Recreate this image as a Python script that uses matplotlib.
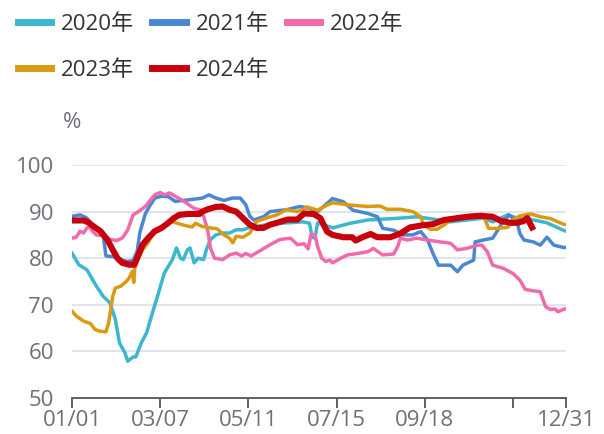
import numpy as np
import matplotlib
matplotlib.use("Agg")
import matplotlib.pyplot as plt

plt.rcParams['font.family'] = ['Open Sans', 'Noto Sans CJK SC', 'DejaVu Sans']

# day of year, value (%)
d2020 = [0, 5, 11, 18, 23, 28, 32, 35, 39, 41, 45, 47, 51, 55, 57, 60, 63, 68, 74, 77, 80, 82, 85, 87, 90, 93, 97, 99,
         102, 106, 111, 116, 121, 126, 130, 140, 150, 160, 170, 175, 177, 179, 181, 192, 205, 218, 242, 254, 266, 279,
         291, 303, 310, 321, 328, 340, 350, 362, 364]
v2020 = [81.1, 78.6, 77.5, 74, 71.8, 70.4, 66.8, 61.8, 59.7, 57.9, 58.8, 58.8, 61.8, 64, 66, 69, 71.8, 76.8, 79.7, 82.2,
         80, 79.7, 81.8, 82.2, 79, 80, 79.7, 81.8, 84, 85, 85.4, 85.4, 86.1, 86.1, 86.5, 87, 87.5, 87.6, 87.8, 87.5, 84.5,
         84.3, 87.6, 86.5, 87.5, 88.2, 88.6, 88.9, 88.4, 87.8, 88.2, 88.6, 87.8, 89.3, 88.6, 88.2, 87.6, 86, 85.8]

d2021 = [0, 6, 11, 16, 21, 23, 25, 31, 36, 41, 45, 48, 50, 54, 57, 61, 66, 71, 76, 82, 91, 96, 101, 106, 112, 118, 124,
         128, 131, 134, 141, 146, 158, 168, 175, 181, 192, 200, 207, 218, 225, 229, 237, 244, 251, 257, 262, 266, 270,
         279, 284, 288, 296, 297, 303, 310, 316, 322, 328, 330, 333, 340, 345, 350, 355, 362, 364]
v2021 = [89, 89.3, 88.6, 86.8, 85.8, 85, 80.5, 80.3, 79.7, 79.3, 79.5, 81.5, 85.5, 89.5, 91.1, 92.9, 93.3, 93.2, 92.2,
         92.4, 92.7, 92.9, 93.6, 92.9, 92.4, 92.9, 92.9, 91.5, 89, 88.2, 88.9, 90, 90.4, 91.1, 90.7, 90, 92.8, 92.1, 90.3,
         89.6, 88.9, 86.4, 86, 85, 85, 85.7, 83.9, 81, 78.5, 78.5, 77.1, 78.5, 79.6, 83.5, 83.9, 84.3, 87.1, 89.3, 87.8,
         85.3, 83.9, 83.5, 82.8, 84.5, 82.8, 82.3, 82.3]

d2022 = [0, 3, 6, 8.5, 11, 13, 15, 18, 23, 28, 33, 37, 41, 45, 49, 54, 57, 61, 65, 68, 72, 76, 81, 86, 90, 94, 97, 100,
         102, 105, 111, 116, 121, 125, 128, 132, 138, 146, 153, 161, 166, 171, 174, 176, 179, 181, 184, 187, 190, 192,
         198, 203, 210, 218, 222, 229, 237, 240, 242, 247, 254, 262, 271, 279, 284, 291, 299, 302, 306, 310, 318, 325,
         330, 334, 340, 345, 349, 352.5, 356, 358, 362, 364]
v2022 = [84.3, 84.5, 85.8, 85.4, 86.5, 86.8, 85.8, 85, 84.8, 84, 83.8, 84.3, 86, 89.3, 90, 91.1, 92.2, 93.6, 94.1, 93.6,
         94, 93.3, 92.5, 91.5, 90.7, 90.4, 89, 86, 82.2, 80, 79.7, 80.7, 81.1, 80.5, 81, 80.5, 81.5, 82.9, 84, 84.3, 82.9,
         83.1, 82, 85, 85, 82.5, 80, 79.3, 79.6, 79, 80, 80.7, 81, 81.4, 82.1, 80.7, 80.9, 82.5, 84.3, 83.9, 84.3, 83.9,
         83.5, 83.2, 81.8, 82.1, 82.8, 82.8, 81.4, 78.5, 77.8, 76.7, 75.3, 73.3, 73, 72.8, 69.6, 69, 69.1, 68.5, 69, 69.2]

d2023 = [0, 3.5, 8.5, 13.5, 17, 21, 25, 27, 30, 32, 36, 40, 42, 44.5, 45.5, 46.5, 48.5, 52, 56, 60, 63.5, 68.5, 73.5,
         78.5, 83.5, 88.5, 91, 96, 102, 107, 112, 116, 118.5, 121, 126, 131, 136, 143, 151, 158, 166, 171, 173, 181, 188,
         192, 205, 218, 227, 232, 242, 251, 257, 259, 264, 269, 274, 281, 291, 303, 305, 307, 313, 321, 324.5, 330, 338,
         345, 352.5, 362, 364]
v2023 = [68.6, 67.5, 66.5, 66, 64.7, 64.3, 64.2, 66.1, 71.8, 73.6, 74, 75, 75.7, 77.2, 74.8, 78.6, 79.7, 81.8, 83.3,
         85.4, 85.8, 86.8, 87.9, 87.4, 87, 86.7, 87.5, 86.8, 86.5, 86.3, 85, 84.3, 83.3, 84.7, 84.5, 85.4, 87.9, 88.6,
         89.3, 90.4, 90, 90.6, 91, 90.3, 91.4, 91.9, 91.4, 91.1, 91.2, 90.5, 90.5, 90, 88.9, 87.1, 86.2, 86.2, 87.1, 88.6,
         89.1, 89.1, 87.8, 86.4, 86.4, 86.6, 88.2, 89.1, 89.5, 88.9, 88.5, 87.3, 87.2]

d2024 = [0, 8.5, 12, 16, 21, 26, 30, 33.5, 37, 42, 46, 48.5, 52, 56, 61, 66, 71, 75, 79, 86, 94, 96, 100, 106, 111, 116,
         121, 126, 131, 136, 141, 146, 151, 159, 166, 171, 178, 183, 188, 192, 200, 206.5, 209, 214, 220, 225, 234.5,
         242, 249, 259, 266, 274, 284, 291, 301, 310, 316, 323, 328, 333, 335.5, 339]
v2024 = [88.1, 88.1, 87.7, 86.8, 85.8, 84, 81.8, 80, 79, 78.6, 78.6, 80.4, 82.9, 84.3, 85.8, 86.5, 87.6, 88.6, 89.3,
         89.5, 89.5, 90, 90.5, 91, 91.1, 90.4, 90, 88.6, 87.2, 86.5, 86.5, 87.2, 87.6, 88.3, 88.3, 89.6, 89.5, 88.6, 85.7,
         85, 84.5, 84.5, 83.8, 84.5, 85.2, 84.5, 84.5, 85.3, 86.6, 87.1, 87.3, 88.2, 88.6, 88.9, 89.1, 88.9, 88, 87.6,
         87.6, 88, 88.6, 86.6]

tick_days = [0, 65, 130, 195, 260, 325, 364]
tick_labels = ['01/01', '03/07', '05/11', '07/15', '09/18', '', '12/31']

series = [
    ('2020年', d2020, v2020, '#3db6cf', 2.5),
    ('2021年', d2021, v2021, '#4a87d2', 2.5),
    ('2022年', d2022, v2022, '#f26aac', 2.5),
    ('2023年', d2023, v2023, '#da9a12', 2.5),
    ('2024年', d2024, v2024, '#c8000b', 4.4),
]

fig = plt.figure(figsize=(6.04, 4.34), dpi=100)
ax = fig.add_axes([72 / 604, 1 - 398 / 434, (566 - 72) / 604, (398 - 165) / 434])

lines = []
for name, d, v, c, lw in series:
    ln, = ax.plot(d, v, color=c, lw=lw, label=name, solid_joinstyle='round')
    lines.append(ln)

ax.set_xlim(0, 364)
ax.set_ylim(50, 100)
ax.set_yticks([50, 60, 70, 80, 90, 100])
ax.set_xticks(tick_days)
ax.set_xticklabels(tick_labels)
ax.grid(axis='y', color='#dfe2ec', lw=1.3)
ax.set_axisbelow(True)
for s in ['top', 'right', 'left']:
    ax.spines[s].set_visible(False)
ax.spines['bottom'].set_color('#555555')
ax.spines['bottom'].set_linewidth(1.3)
ax.tick_params(axis='y', length=0, pad=13, labelsize=16, labelcolor='#6e7079')
ax.tick_params(axis='x', length=7, width=1.3, color='#555555', pad=2, labelsize=16, labelcolor='#6e7079')

fig.text(72 / 604, 1 - 122 / 434, '%', ha='center', va='center', fontsize=16, color='#6e7079')

# row-major order for a 3-column legend
order = [0, 3, 1, 4, 2]
leg = fig.legend([lines[i] for i in order], [series[i][0] for i in order],
                 loc='upper left', bbox_to_anchor=(0.015, 0.988), ncol=3, frameon=False, fontsize=16,
                 handlelength=1.5, handletextpad=0.45, columnspacing=0.8, labelspacing=1.1,
                 labelcolor='#333333', borderaxespad=0)
for h in leg.legend_handles:
    h.set_linewidth(5)

fig.savefig('out.png', dpi=100)
